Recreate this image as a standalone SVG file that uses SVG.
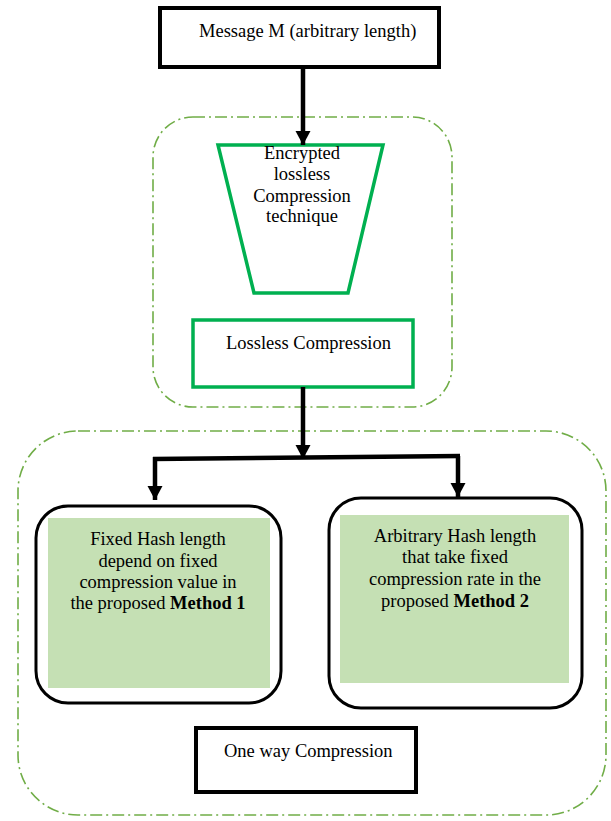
<svg xmlns="http://www.w3.org/2000/svg" width="611" height="821" viewBox="0 0 611 821">
<style>
text{font-family:"Liberation Serif","Times New Roman",serif;font-size:18.5px;fill:#000}
.c{text-anchor:middle}
.grp{fill:none;stroke:#70AD47;stroke-width:1.6;stroke-dasharray:12 4 2 4}
.blk{fill:#fff;stroke:#000;stroke-width:4}
.grn{fill:#fff;stroke:#00B050;stroke-width:3.5}
.rnd{fill:#fff;stroke:#000;stroke-width:3}
.fill{fill:#C5E0B4}
.conn{fill:none;stroke:#000;stroke-width:4.5}
</style>
<defs>
<marker id="ah" markerUnits="userSpaceOnUse" markerWidth="16" markerHeight="16" refX="14" refY="7.5" orient="auto">
<path d="M0,0 L14,7.5 L0,15 z" fill="#000"/>
</marker>
</defs>
<g id="group-top"><rect class="grp" x="153" y="117" width="299" height="290" rx="40"/></g>
<g id="group-bottom"><rect class="grp" x="18" y="431" width="588" height="384" rx="60"/></g>
<g id="message"><rect class="blk" x="160" y="8" width="279" height="59"/><text x="199" y="37">Message M (arbitrary length)</text></g>
<g id="encrypted"><polygon class="grn" points="218,145 383,145 348,293 254,293"/>
<text class="c" x="302" y="159">Encrypted</text><text class="c" x="302" y="180">lossless</text><text class="c" x="302" y="202">Compression</text><text class="c" x="302" y="222">technique</text></g>
<g id="lossless"><rect class="grn" x="193" y="320" width="220" height="67"/><text x="226" y="349">Lossless Compression</text></g>
<g id="method1"><rect class="rnd" x="36" y="506" width="245" height="197" rx="32"/><rect class="fill" x="48" y="518" width="222" height="170"/>
<text class="c" x="158" y="545">Fixed Hash length</text><text class="c" x="158" y="567">depend on fixed</text><text class="c" x="158" y="588">compression value in</text><text class="c" x="158" y="609">the proposed <tspan font-weight="bold">Method 1</tspan></text></g>
<g id="method2"><rect class="rnd" x="329" y="498" width="253" height="210" rx="32"/><rect class="fill" x="340" y="515" width="229" height="168"/>
<text class="c" x="455" y="542">Arbitrary Hash length</text><text class="c" x="455" y="563">that take fixed</text><text class="c" x="455" y="585">compression rate in the</text><text class="c" x="455" y="607">proposed <tspan font-weight="bold">Method 2</tspan></text></g>
<g id="oneway"><rect class="blk" x="196" y="728" width="220" height="64"/><text x="224" y="757">One way Compression</text></g>
<g id="connectors">
<path class="conn" d="M303,67 V145" marker-end="url(#ah)"/>
<path class="conn" d="M303,387 V459" marker-end="url(#ah)"/>
<path class="conn" d="M153,459 L460,456"/>
<path class="conn" d="M155,457 V500" marker-end="url(#ah)"/>
<path class="conn" d="M458,456 V497" marker-end="url(#ah)"/>
</g>
</svg>
